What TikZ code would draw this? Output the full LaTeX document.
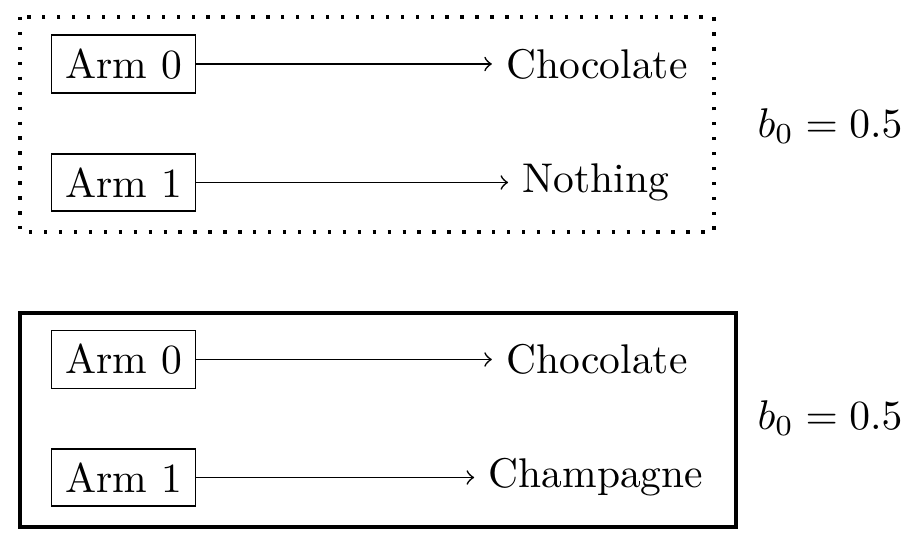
\documentclass[tikz,border=0pt]{standalone}
\usepackage{tikz}
\usetikzlibrary{arrows}

\begin{document}
\begin{tikzpicture}[x=0.241pt, y=-0.241pt]
				%\draw[help lines] (0,0) grid (920,550);
				\tikzset{
				armbox/.style 	= {draw, thin},
				outcome/.style 	= {},
				belief/.style 	= {},
				pull/.style 	= {->, thin}}
				\useasboundingbox (0,0) rectangle (920,550);
				
				% first world
				\draw[thick, dash pattern=on 0.8pt off 2.8pt] (20,17) rectangle (714,232);
				\node[armbox] (armA0) at (123.5,64) {Arm 0};
				\node[armbox] (armA1) at (123.5,182.5) {Arm 1};
				\node[outcome] (outA0) at (597,64) {Chocolate};
				\node[outcome] (outA1) at (596,182.5) {Nothing};
				\node[belief] (belA) at (830,126) {$b_0 = 0.5$};
				
				\draw[pull] (armA0) -- (outA0);
				\draw[pull] (armA1) -- (outA1);
				
				% second world
				\draw[thick] (20,313) rectangle (736,527);
				\node[armbox] (armB0) at (123.5,359.5) {Arm 0};
				\node[armbox] (armB1) at (123.5,477.5) {Arm 1};
				\node[outcome] (outB0) at (597,359.5) {Chocolate};
				\node[outcome] (outB1) at (596,477.5) {Champagne};
				\node[belief] (belB) at (830,418) {$b_0 = 0.5$};
				
				\draw[pull] (armB0) -- (outB0);
				\draw[pull] (armB1) -- (outB1);
			\end{tikzpicture}
\end{document}
